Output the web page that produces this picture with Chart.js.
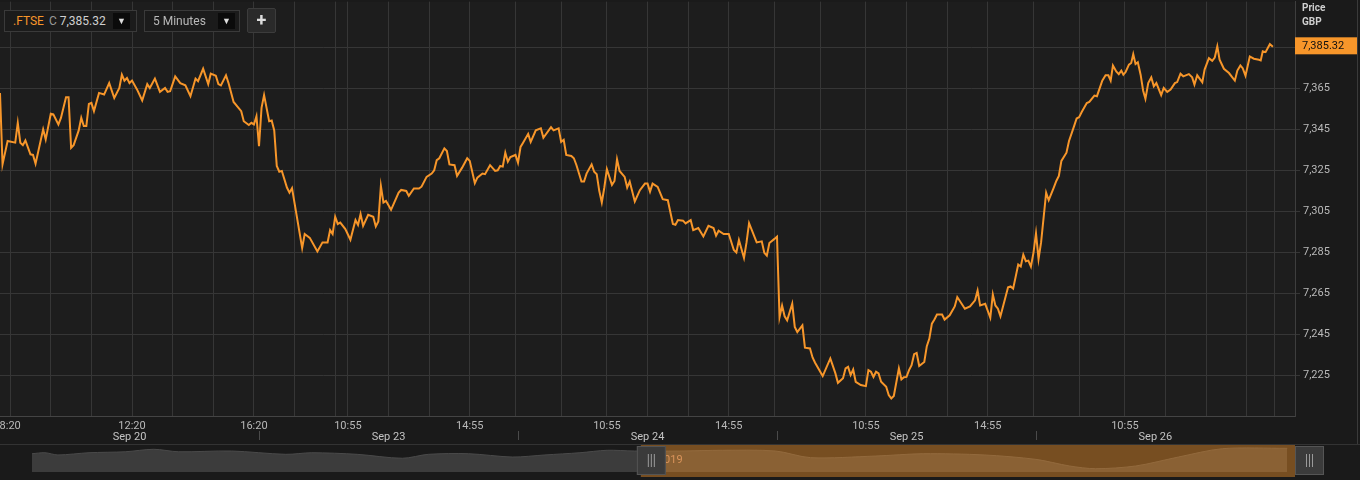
<!DOCTYPE html>
<html>
<head>
<meta charset="utf-8">
<script src="https://cdn.jsdelivr.net/npm/chart.js@4"></script>
<style>
  html, body { margin: 0; padding: 0; background: #1a1a1a; overflow: hidden; }
  body { width: 1360px; height: 480px; position: relative; font-family: Roboto, "Liberation Sans", sans-serif; }
  #mainWrap { position: absolute; left: -30px; top: -8px; width: 1390px; height: 452px; }
  #navWrap { position: absolute; left: 0; top: 444px; width: 1360px; height: 32px; border-top: 1px solid #333; }
  .box { position: absolute; top: 10px; height: 20px; border: 1px solid #3a3a3a; background: #1b1b1b; color: #c8c8c8; font-size: 12px; line-height: 20px; box-sizing: content-box; }
  .drop { position: absolute; top: 2px; width: 17px; height: 16px; background: #0b0b0b; color: #ddd; font-size: 9px; line-height: 16px; text-align: center; }
  #plus { position: absolute; left: 247px; top: 8px; width: 27px; height: 23px; border: 1px solid #3c3c3c; border-radius: 2px; background: #2a2a2a; color: #ddd; font-size: 18px; font-weight: bold; line-height: 22px; text-align: center; }
  #priceHead { position: absolute; left: 1302px; top: 1px; color: #cfcfcf; font-size: 10px; font-weight: bold; line-height: 14px; }
  #edge { position: absolute; left: 1357px; top: 0; width: 1px; height: 444px; background: #3a3a3a; }
</style>
</head>
<body>
<div id="mainWrap"><canvas id="priceChart"></canvas></div>
<div id="navWrap"><canvas id="navChart"></canvas></div>
<div id="edge"></div>

<div class="box" style="left:4px; width:131px;">
  <span style="margin-left:8px; color:#f7962a;">.FTSE</span>
  <span style="color:#999; margin-left:2px;">C</span>
  <span id="lastTxt" style="color:#d0d0d0;"></span>
  <div class="drop" style="left:108px;">&#9660;</div>
</div>
<div class="box" style="left:144px; width:94px;">
  <span id="intervalTxt" style="margin-left:8px; color:#b8b8b8;"></span>
  <div class="drop" style="left:73px;">&#9660;</div>
</div>
<div id="plus">+</div>
<div id="priceHead">Price<br>GBP</div>

<script>
// FTSE 100, 5 minute bars, Sep 20 - Sep 26 (x = bar number from Sep 20 08:00)
const symbol = '.FTSE';
const interval = '5 Minutes';
const lastPrice = 7385.32;

const bars = [0,1,3,6,7,8,9,10,12,13,14,17,18,20,21,23,24,26,27,28,29,31,32,33,34,35,36,37,39,41,43,45,47,48,49,50,51,52,54,56,58,59,61,63,65,66,67,69,71,73,75,77,78,80,82,83,85,86,87,89,90,92,95,96,98,99,100,101,
  102,103,104,106,107,108,109,110,111,113,114,115,119,120,122,125,127,129,130,131,132,133,134,136,138,140,141,142,143,145,147,148,149,150,151,152,154,155,157,158,160,161,163,165,166,168,170,171,172,173,175,176,177,179,180,182,184,185,187,188,190,191,193,195,196,197,198,199,200,201,203,
  204,205,206,208,209,211,213,214,217,218,220,221,222,223,225,226,227,229,230,231,233,234,235,236,237,238,239,241,242,243,244,246,247,248,250,252,254,255,256,257,259,261,263,265,266,267,269,270,272,273,275,277,279,281,282,283,285,287,289,290,291,293,294,295,298,300,301,302,303,305,
  306,307,308,309,310,312,313,314,316,317,319,320,321,324,327,329,330,332,333,334,335,336,337,339,341,342,343,344,345,346,347,349,350,351,352,354,355,356,357,358,359,360,361,362,364,365,366,367,368,369,371,372,374,376,377,380,382,384,385,386,388,390,391,392,393,394,397,398,399,401,402,403,404,405,406,407,
  408,409,410,412,413,415,416,417,418,420,421,423,424,425,426,428,429,431,432,434.1,435.4,436.5,437.4,438.3,439.6,440.6,441.6,442.4,443.3,444.6,445.5,446.3,447.2,448.1,449.2,450.2,451.1,452.2,453.4,454.4,455.4,457.3,458.3,459.7,461.0,462.7,463.6,464.9,466.0,468.2,469.5,470.4,471.5,473.5,474.4,476.1,477.4,478.4,479.4,480.3,482.0,484.0,486.3,487.3,488.5,489.4,490.5,492.2,493.8,495.8,496.5,497.3,498.4,500.1,501.3];

const prices = [7362.8,7327.9,7339.3,7338.5,7348.2,7338.5,7337.3,7339.6,7332.8,7332.5,7328.2,7345.0,7340.1,7352.6,7352.3,7347.4,7350.6,7360.7,7360.7,7336.0,7337.3,7344.5,7350.6,7346.6,7346.6,7357.4,7357.9,7353.9,7362.8,7362.0,7367.6,7360.3,7365.2,7371.7,7368.8,7370.1,7367.6,7368.8,7364.4,7359.1,7367.1,7365.2,7369.8,7363.3,7365.2,7363.3,7363.6,7370.9,7367.6,7366.5,7361.2,7369.8,7368.5,7374.6,7367.1,7372.2,7371.2,7367.1,7366.5,7371.4,7367.6,7358.4,7353.9,7349.0,7347.1,7348.2,7347.4,7351.4,
  7336.8,7355.5,7361.7,7349.0,7349.3,7344.5,7327.1,7324.3,7324.7,7316.6,7314.1,7316.3,7287.1,7293.9,7292.0,7285.4,7289.8,7289.8,7295.8,7293.9,7302.3,7298.8,7299.5,7296.3,7291.1,7300.7,7298.3,7303.6,7297.9,7303.3,7302.3,7297.6,7300.0,7317.4,7309.3,7310.1,7305.7,7308.5,7314.1,7315.4,7314.9,7312.5,7316.1,7316.1,7317.0,7321.8,7323.4,7325.0,7330.0,7330.9,7335.7,7334.4,7327.9,7327.5,7322.3,7326.3,7330.9,7329.6,7318.7,7321.4,7323.4,7323.1,7327.5,7324.7,7325.0,7327.1,7326.8,7333.6,7329.2,7331.5,7332.5,
  7328.7,7336.4,7338.5,7342.8,7338.9,7344.5,7345.5,7340.9,7346.1,7344.5,7345.5,7338.9,7339.9,7332.5,7332.0,7330.9,7327.6,7319.5,7319.5,7323.4,7327.9,7324.3,7323.1,7315.0,7309.3,7316.6,7325.5,7317.9,7319.8,7330.4,7324.7,7321.8,7316.6,7319.5,7309.8,7315.3,7318.5,7318.5,7314.6,7318.5,7316.9,7310.9,7310.4,7298.8,7298.4,7300.7,7300.4,7299.1,7300.7,7295.8,7296.8,7292.7,7297.9,7296.8,7293.1,7295.5,7293.9,7293.9,7286.1,7284.9,7291.0,7282.2,7289.8,7299.2,7289.8,7290.3,7284.7,7283.3,7289.5,7291.5,
  7292.6,7253.3,7259.0,7253.7,7251.7,7259.8,7248.5,7246.0,7249.3,7238.4,7238.0,7233.6,7231.0,7224.5,7233.1,7225.8,7221.2,7223.4,7228.2,7229.0,7225.0,7227.7,7221.7,7220.1,7219.6,7227.4,7226.6,7224.1,7226.6,7225.8,7221.7,7219.3,7215.2,7213.6,7214.8,7228.2,7222.9,7223.9,7224.1,7227.4,7229.8,7235.2,7235.8,7229.4,7231.4,7239.1,7242.8,7250.1,7252.1,7254.6,7254.6,7252.1,7254.2,7258.5,7263.1,7257.4,7258.5,7261.5,7266.3,7259.0,7259.8,7253.0,7264.4,7259.0,7257.4,7253.7,7267.9,7268.3,7267.2,7279.0,7278.0,7283.8,7280.6,7280.9,7278.0,7284.7,
  7294.2,7281.7,7289.8,7314.1,7310.4,7316.6,7319.8,7322.3,7329.6,7333.6,7339.3,7346.6,7350.3,7351.0,7353.5,7357.9,7358.4,7361.5,7361.2,7368.8,7371.4,7371.4,7368.8,7376.2,7373.3,7372.0,7373.7,7371.7,7373.0,7376.6,7377.4,7381.7,7376.9,7377.8,7371.7,7363.9,7359.9,7367.6,7370.4,7366.0,7367.6,7361.7,7365.2,7363.3,7364.4,7367.6,7368.1,7372.2,7370.9,7372.0,7370.4,7366.9,7371.4,7368.0,7374.2,7379.8,7378.5,7380.1,7385.5,7379.0,7374.6,7372.5,7368.8,7373.7,7376.2,7374.9,7371.2,7380.6,7379.5,7379.0,7378.7,7383.1,7382.7,7386.6,7385.32];

const yTicks = [7225, 7245, 7265, 7285, 7305, 7325, 7345, 7365, 7385];

// vertical grid positions (bars) and the ones that carry a time label
const gridBars = [4,20,36,52,68,84,100,116,132,137,153,169,185,203,221,239,255,271,287,305,323,341,357,373,389,407,425,443,459,475,491,502];
const timeTickBars = [4, 52, 100, 137, 185, 239, 287, 341, 389, 443];
const timeTickLabels = ['8:20', '12:20', '16:20', '10:55', '14:55', '10:55', '14:55', '10:55', '14:55', '10:55'];
const dateBars = [51, 153, 255, 357, 455];
const dateLabels = ['Sep 20', 'Sep 23', 'Sep 24', 'Sep 25', 'Sep 26'];
const dayBreakBars = [102, 204, 306, 408];

// navigator (previous week + current window), coarse
const navBars = [-470,-460,-450,-426,-398,-376,-357,-316,-274,-254,-219,-184,-164,-133,-99,-74,-47,-26,-5,30,63,104,131,181,218,265,305,331,351,382,415,449,499];
const navPrices = [7339,7347,7329,7347,7355,7375,7355,7361,7334,7347,7334,7302,7334,7339,7312,7329,7347,7367,7361,7361,7367,7361,7307,7320,7339,7329,7293,7239,7217,7239,7312,7380,7383];

document.getElementById('lastTxt').textContent = lastPrice.toLocaleString('en-US', {minimumFractionDigits: 2});
document.getElementById('intervalTxt').textContent = interval;

const ORANGE = '#f7962a';
const GRID = '#363636';
const TXT = '#b9b9b9';
const FONT = {family: 'Roboto, "Liberation Sans", sans-serif', size: 11};

const plotBg = {
  id: 'plotBg',
  beforeDraw(chart) {
    const {ctx, chartArea: a} = chart;
    ctx.save();
    ctx.fillStyle = '#1d1d1d';
    ctx.fillRect(a.left, a.top, a.right - a.left, a.bottom - a.top);
    ctx.restore();
  }
};

const priceTag = {
  id: 'priceTag',
  afterDraw(chart) {
    const {ctx, chartArea: a} = chart;
    const y = chart.scales.y.getPixelForValue(lastPrice) - 1;
    ctx.save();
    ctx.fillStyle = ORANGE;
    ctx.fillRect(a.right, y - 8.5, 62, 17);
    ctx.fillStyle = '#111';
    ctx.font = '11px Roboto, "Liberation Sans", sans-serif';
    ctx.textBaseline = 'middle';
    ctx.fillText(lastPrice.toLocaleString('en-US', {minimumFractionDigits: 2}), a.right + 7, y + 0.5);
    ctx.restore();
  }
};

new Chart(document.getElementById('priceChart'), {
  type: 'line',
  data: {
    datasets: [{
      data: prices.map((p, i) => ({x: bars[i], y: p})),
      borderColor: ORANGE,
      borderWidth: 2,
      pointRadius: 0,
      tension: 0
    }]
  },
  options: {
    responsive: true,
    maintainAspectRatio: false,
    animation: false,
    events: [],
    layout: {padding: {left: 30, top: 0, right: 0, bottom: 0}},
    plugins: {legend: {display: false}, tooltip: {enabled: false}},
    scales: {
      x: {
        type: 'linear', position: 'bottom', min: 0, max: 510,
        afterBuildTicks: axis => { axis.ticks = gridBars.map(v => ({value: v})); },
        afterFit: axis => { axis.height = 15; },
        grid: {color: GRID, drawTicks: false},
        border: {display: true, color: '#444'},
        ticks: {
          autoSkip: false, maxRotation: 0, padding: 4, color: TXT, font: FONT,
          callback: v => { const i = timeTickBars.indexOf(v); return i >= 0 ? timeTickLabels[i] : ''; }
        }
      },
      x2: {
        type: 'linear', position: 'bottom', min: 0, max: 510,
        afterBuildTicks: axis => {
          axis.ticks = dayBreakBars.concat(dateBars).sort((a, b) => a - b).map(v => ({value: v}));
        },
        afterFit: axis => { axis.height = 13; },
        grid: {
          drawOnChartArea: false, drawTicks: true, tickLength: 9,
          color: c => dayBreakBars.includes(c.tick && c.tick.value) ? '#4a4a4a' : 'rgba(0,0,0,0)'
        },
        border: {display: false},
        ticks: {
          autoSkip: false, maxRotation: 0, padding: -9, color: '#c4c4c4', font: FONT,
          callback: v => { const i = dateBars.indexOf(v); return i >= 0 ? dateLabels[i] : ''; }
        }
      },
      y: {
        position: 'right', min: 7205, max: 7407.4,
        afterBuildTicks: axis => { axis.ticks = yTicks.map(v => ({value: v})); },
        afterFit: axis => { axis.width = 65; },
        grid: {color: GRID, tickLength: 5},
        border: {display: true, color: '#3e3e3e'},
        ticks: {padding: 3, color: TXT, font: FONT, callback: v => v.toLocaleString('en-US')}
      }
    }
  },
  plugins: [plotBg, priceTag]
});

const navMask = {
  id: 'navMask',
  afterDraw(chart) {
    const {ctx, chartArea: a} = chart;
    const x0 = chart.scales.x.getPixelForValue(0);
    const h = chart.height;
    ctx.save();
    ctx.fillStyle = 'rgba(247,150,42,0.42)';
    ctx.fillRect(x0, 0, a.right - x0, h);
    ctx.fillStyle = '#d9935a';
    ctx.font = '11px Roboto, "Liberation Sans", sans-serif';
    ctx.textBaseline = 'middle';
    ctx.fillText('2019', x0 + 17, 15);
    const handle = hx => {
      ctx.fillStyle = '#3b3b3b';
      ctx.strokeStyle = '#555';
      ctx.lineWidth = 1;
      ctx.fillRect(hx, 1, 29, 29);
      ctx.strokeRect(hx + 0.5, 1.5, 28, 28);
      ctx.strokeStyle = '#9a9a9a';
      for (let k = -3; k <= 3; k += 3) {
        ctx.beginPath();
        ctx.moveTo(hx + 14.5 + k, 9);
        ctx.lineTo(hx + 14.5 + k, 22);
        ctx.stroke();
      }
    };
    handle(x0 - 4);
    handle(a.right);
    ctx.restore();
  }
};

new Chart(document.getElementById('navChart'), {
  type: 'line',
  data: {
    datasets: [{
      data: navPrices.map((p, i) => ({x: navBars[i], y: p})),
      borderColor: '#4a4a4a',
      borderWidth: 1,
      backgroundColor: '#3c3c3c',
      fill: 'start',
      pointRadius: 0,
      tension: 0.3
    }]
  },
  options: {
    responsive: true,
    maintainAspectRatio: false,
    animation: false,
    events: [],
    layout: {padding: {left: 32, right: 65, top: 0, bottom: 5}},
    plugins: {legend: {display: false}, tooltip: {enabled: false}},
    scales: {
      x: {type: 'linear', display: false, min: -470, max: 505},
      y: {display: false, min: 7190, max: 7410}
    }
  },
  plugins: [navMask]
});
</script>
</body>
</html>
